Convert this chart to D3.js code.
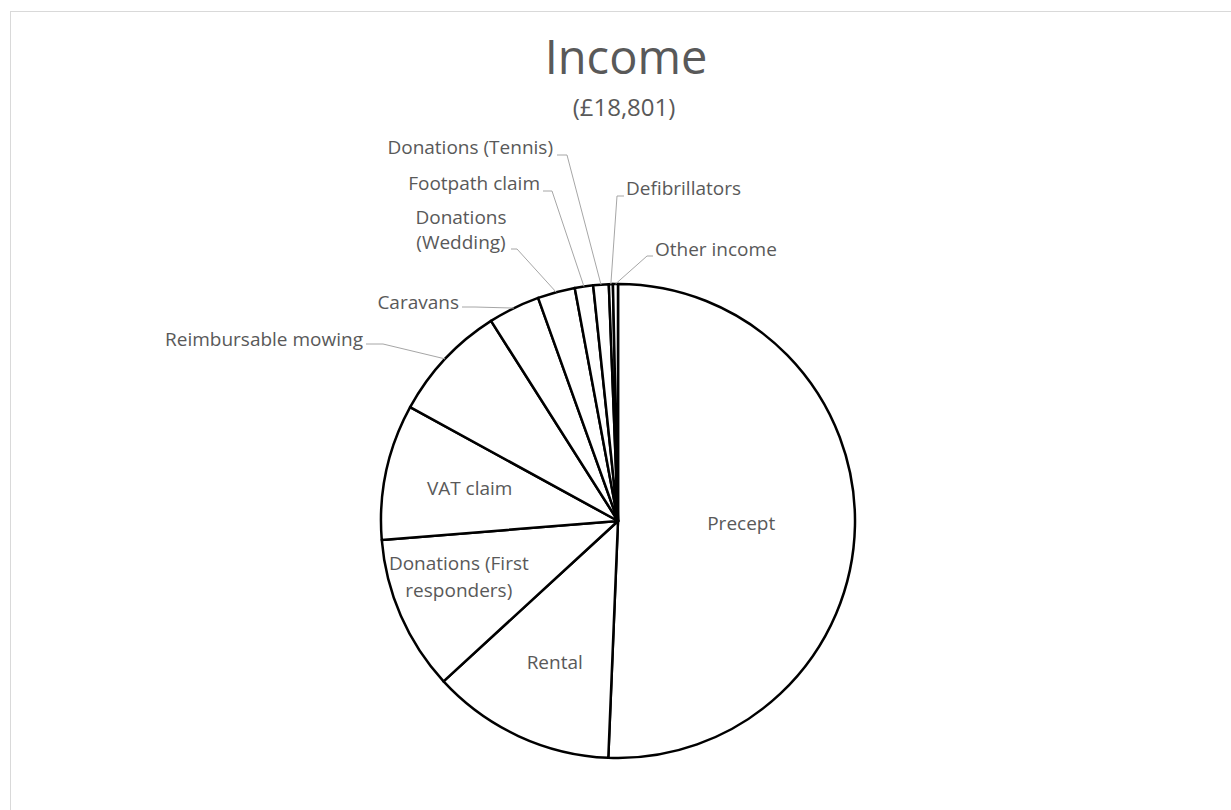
<!DOCTYPE html>
<head>
<meta charset="utf-8">
<style>
body { margin: 0; background: #fff; }
text { font-family: "Open Sans", sans-serif; fill: #595959; }
.slice { fill: #fff; stroke: #000; stroke-width: 2.5px; stroke-linejoin: round; }
.leader { fill: none; stroke: #a6a6a6; stroke-width: 1px; }
</style>
</head>
<body>
<script src="https://cdn.jsdelivr.net/npm/d3@7"></script>
<script type="text/javascript">

// data (total £18,801)
var categories = ["Precept", "Rental", "Donations (First responders)", "VAT claim",
  "Reimbursable mowing", "Caravans", "Donations (Wedding)", "Footpath claim",
  "Donations (Tennis)", "Defibrillators", "Other income"];
var values = [9523, 2353, 1985, 1739, 1509, 663, 480, 235, 198, 52, 64];
var titleText = "Income";
var subtitleText = "(£18,801)";

var width = 1231, height = 810;
var cx = 618, cy = 521, radius = 237;

// label placement (Excel "best fit" look)
// inside labels: fraction of radius along the slice mid angle, plus a nudge
var insideLabels = {
  "Precept": {r: 0.52, nx: 0, ny: 0, lines: ["Precept"]},
  "Rental": {r: 0.655, nx: 2, ny: 1, lines: ["Rental"]},
  "Donations (First responders)": {r: 0.71, nx: -5, ny: -11, lines: ["Donations (First", "responders)"]},
  "VAT claim": {r: 0.64, nx: 0, ny: 0, lines: ["VAT claim"]}
};
// outside labels: text position + leader start/elbow
var outsideLabels = {
  "Reimbursable mowing": {x: 363, y: 346, anchor: "end", lines: ["Reimbursable mowing"], lead: [[366, 344], [383, 344]]},
  "Caravans": {x: 459, y: 309, anchor: "end", lines: ["Caravans"], lead: [[462, 307], [475, 307]]},
  "Donations (Wedding)": {x: 461, y: 224, anchor: "middle", lines: ["Donations", "(Wedding)"], lead: [[511, 249], [517, 249]]},
  "Footpath claim": {x: 540, y: 190, anchor: "end", lines: ["Footpath claim"], lead: [[543, 191], [552, 191]]},
  "Donations (Tennis)": {x: 553, y: 154, anchor: "end", lines: ["Donations (Tennis)"], lead: [[557, 155], [567, 155]]},
  "Defibrillators": {x: 626, y: 195, anchor: "start", lines: ["Defibrillators"], lead: [[624, 196], [617, 196]]},
  "Other income": {x: 655, y: 256, anchor: "start", lines: ["Other income"], lead: [[653, 256], [647, 256]]}
};

var svg = d3.select("body")
  .append("svg")
  .attr("width", width)
  .attr("height", height);

// chart area border (runs off the right/bottom of the picture)
svg.append("rect")
  .attr("x", 10.5).attr("y", 11.5)
  .attr("width", 1400).attr("height", 1000)
  .style("fill", "none").style("stroke", "#d9d9d9");

svg.append("text")
  .attr("x", 626).attr("y", 74)
  .attr("text-anchor", "middle")
  .style("font-size", "47px")
  .text(titleText);

svg.append("text")
  .attr("x", 624).attr("y", 116)
  .attr("text-anchor", "middle")
  .style("font-size", "24px")
  .text(subtitleText);

var data = categories.map(function(c, i) { return {name: c, value: values[i]}; });

var pie = d3.pie().sort(null).value(function(d) { return d.value; });
var arcs = pie(data);

var arc = d3.arc().innerRadius(0).outerRadius(radius);

var g = svg.append("g").attr("transform", "translate(" + cx + "," + cy + ")");

g.selectAll("path.slice")
  .data(arcs)
  .enter()
  .append("path")
  .attr("class", "slice")
  .attr("d", arc);

function midAngle(d) { return (d.startAngle + d.endAngle) / 2; }

// inside labels
arcs.forEach(function(d) {
  var lab = insideLabels[d.data.name];
  if (!lab) return;
  var a = midAngle(d), rr = radius * lab.r;
  var x = Math.sin(a) * rr + lab.nx, y = -Math.cos(a) * rr + lab.ny;
  var lh = 27;
  var t = g.append("text")
    .attr("text-anchor", "middle")
    .style("font-size", "19px");
  lab.lines.forEach(function(l, i) {
    t.append("tspan")
      .attr("x", x)
      .attr("y", y + 6 + (i - (lab.lines.length - 1) / 2) * lh)
      .text(l);
  });
});

// outside labels with leader lines
arcs.forEach(function(d) {
  var lab = outsideLabels[d.data.name];
  if (!lab) return;
  var a = midAngle(d);
  var px = cx + Math.sin(a) * radius, py = cy - Math.cos(a) * radius;
  var pts = lab.lead.concat([[px, py]]);
  svg.append("path")
    .attr("class", "leader")
    .attr("d", d3.line()(pts));
  var t = svg.append("text")
    .attr("text-anchor", lab.anchor)
    .style("font-size", "19px");
  lab.lines.forEach(function(l, i) {
    t.append("tspan")
      .attr("x", lab.x)
      .attr("y", lab.y + i * 25)
      .text(l);
  });
});

</script>
</body>
